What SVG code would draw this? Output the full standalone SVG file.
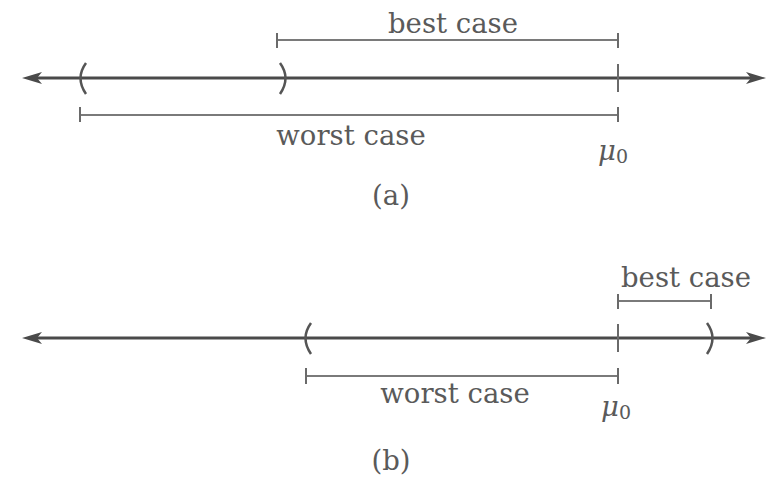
<svg xmlns="http://www.w3.org/2000/svg" width="770" height="477" viewBox="0 0 770 477">
<defs>
<path id="ahR" d="M0,0 L-20,-6 L-15,0 L-20,6 Z" fill="#4a4a4a"/>
<path id="ahL" d="M0,0 L20,-6 L15,0 L20,6 Z" fill="#4a4a4a"/>
<style>
.axis{stroke:#4a4a4a;stroke-width:3;fill:none}
.bar{stroke:#7a7a7a;stroke-width:2;fill:none}
.tick{stroke:#6a6a6a;stroke-width:2;fill:none}
.par{stroke:#555;stroke-width:2.5;fill:none}
.t{font-family:"DejaVu Serif",serif;fill:#5a5a5a;font-size:27.5px}
.mu{font-style:italic}
</style>
</defs>
<g id="connectors">
<line class="axis" x1="30" y1="78" x2="756" y2="78"/>
<use href="#ahL" x="22" y="78"/>
<use href="#ahR" x="766" y="78"/>
<line class="axis" x1="30" y1="338" x2="756" y2="338"/>
<use href="#ahL" x="22" y="338"/>
<use href="#ahR" x="766" y="338"/>
</g>
<g id="panel-a">
<path class="par" d="M86,63 Q75,78 86,94"/>
<path class="par" d="M280,63 Q291,78 280,94"/>
<line class="tick" x1="618" y1="64" x2="618" y2="92"/>
<g id="a-best">
<line class="bar" x1="277" y1="40" x2="618" y2="40"/>
<line class="tick" x1="277" y1="33" x2="277" y2="48"/>
<line class="tick" x1="618" y1="33" x2="618" y2="48"/>
<text class="t" x="453" y="33" text-anchor="middle">best case</text>
</g>
<g id="a-worst">
<line class="bar" x1="80" y1="115" x2="618" y2="115"/>
<line class="tick" x1="80" y1="107" x2="80" y2="122"/>
<line class="tick" x1="618" y1="107" x2="618" y2="122"/>
<text class="t" x="351" y="145" text-anchor="middle">worst case</text>
</g>
<text class="t mu" x="598" y="160">μ<tspan font-style="normal" font-size="19" dy="3">0</tspan></text>
<text class="t" x="391" y="205" text-anchor="middle">(a)</text>
</g>
<g id="panel-b">
<path class="par" d="M311,323 Q300,338 311,354"/>
<path class="par" d="M707,323 Q718,338 707,354"/>
<line class="tick" x1="618" y1="324" x2="618" y2="352"/>
<g id="b-best">
<line class="bar" x1="618" y1="301" x2="711" y2="301"/>
<line class="tick" x1="618" y1="294" x2="618" y2="309"/>
<line class="tick" x1="711" y1="294" x2="711" y2="309"/>
<text class="t" x="686" y="287" text-anchor="middle">best case</text>
</g>
<g id="b-worst">
<line class="bar" x1="306" y1="376" x2="618" y2="376"/>
<line class="tick" x1="306" y1="368" x2="306" y2="384"/>
<line class="tick" x1="618" y1="368" x2="618" y2="384"/>
<text class="t" x="455" y="403" text-anchor="middle">worst case</text>
</g>
<text class="t mu" x="601" y="416">μ<tspan font-style="normal" font-size="19" dy="3">0</tspan></text>
<text class="t" x="391" y="470" text-anchor="middle">(b)</text>
</g>
</svg>
